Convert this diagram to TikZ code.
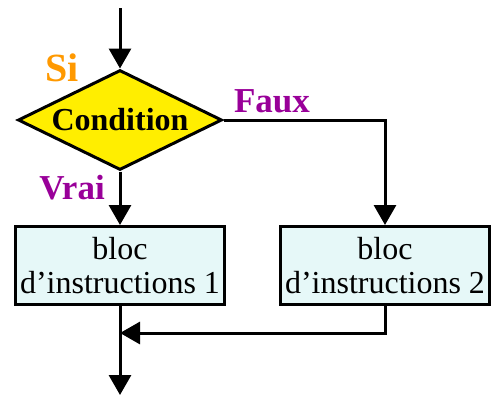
\documentclass[tikz,border=0pt]{standalone}
\usepackage{fontspec}
\setmainfont{Liberation Serif}
\usepackage{xcolor}
\usetikzlibrary{shapes.geometric,arrows.meta,positioning}
\definecolor{jaune}{RGB}{255,238,0}
\definecolor{orangeSi}{RGB}{255,153,0}
\definecolor{pourpre}{RGB}{153,0,153}
\definecolor{cyanclair}{RGB}{230,248,248}
\begin{document}
\begin{tikzpicture}
        [x=0.5pt,y=-0.5pt,line width=1.5pt,
          >={Triangle[length=10pt,width=11pt]},
          texte/.style={font=\fontsize{16}{17}\selectfont},
          test/.style={diamond,draw,fill=jaune,aspect=2,inner sep=1pt,
            minimum width=102pt,minimum height=50pt,
            font=\fontsize{16}{17}\selectfont\bfseries},
          bloc/.style={rectangle,draw,fill=cyanclair,align=center,
            minimum width=104.5pt,minimum height=39pt,inner sep=1pt,texte},
          etiq/.style={font=\fontsize{17.5}{20}\selectfont\bfseries,text=pourpre}]
        \useasboundingbox (0,0) rectangle (494,398);
        \coordinate (debut) at (120,8);
        \node[test] (cond) at (120,120) {Condition};
        \node[bloc] (b1) at (120,265.5) {bloc\\d'instructions 1};
        \node[bloc] (b2) at (385,265.5) {bloc\\d'instructions 2};
        \coordinate (jonc) at (120,333);
        \coordinate (fin) at (120,395);
        \node[etiq,text=orangeSi,font=\fontsize{20}{22}\selectfont\bfseries] (si) at (62,68) {Si};
        \node[etiq] (faux) at (272,101) {Faux};
        \node[etiq] (vrai) at (72,188) {Vrai};
        \draw[->] (debut) -- (cond.north);
        \draw[->] (cond.south) -- (b1.north);
        \draw[->] (cond.east) -| (b2.north);
        \draw[->] (b2.south) |- (jonc);
        \draw[->] (b1.south) -- (fin);
      \end{tikzpicture}
\end{document}
